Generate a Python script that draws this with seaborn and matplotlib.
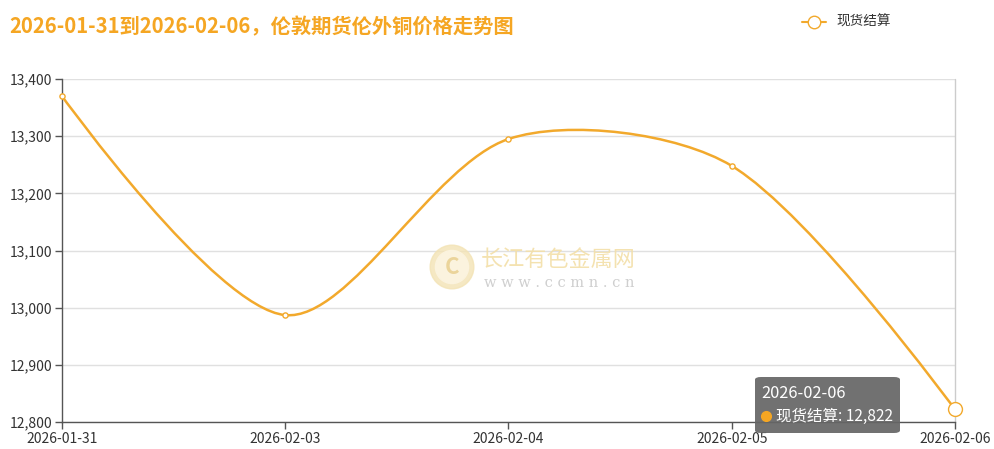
import numpy as np
import pandas as pd
import matplotlib
matplotlib.use("Agg")
import matplotlib.pyplot as plt
import seaborn as sns
from matplotlib.path import Path
from matplotlib.patches import PathPatch, FancyBboxPatch, Circle
from matplotlib.ticker import FuncFormatter, MultipleLocator

# 数据
dates = ["2026-01-31", "2026-02-03", "2026-02-04", "2026-02-05", "2026-02-06"]
prices = [13370, 12987, 13295, 13248, 12822]
series_name = "现货结算"

line_color = "#F2A92C"
title_color = "#F5A623"

sns.set_theme(style="white")
plt.rcParams['font.family'] = ['Noto Sans CJK SC', 'DejaVu Sans']

fig = plt.figure(figsize=(9.94, 4.49), dpi=100)
W, H = 994, 449
x0, x1, y0, y1 = 62, 955, 79, 422
ax = fig.add_axes([x0 / W, 1 - y1 / H, (x1 - x0) / W, (y1 - y0) / H])

df = pd.DataFrame({"idx": range(len(dates)), "date": dates, "price": prices})
ymin, ymax = 12800, 13400
ax.set_xlim(0, len(dates) - 1)
ax.set_ylim(ymin, ymax)

# 平滑曲线：按相邻点算贝塞尔控制点（像素空间计算）
px_x = (x1 - x0) / (len(dates) - 1)
px_y = (y1 - y0) / (ymax - ymin)
pts = np.array([[i * px_x, p * px_y] for i, p in enumerate(prices)])
lo, hi = pts.min(axis=0), pts.max(axis=0)
smooth = 0.3
n = len(pts)
verts = [tuple(pts[0])]
codes = [Path.MOVETO]
cp0 = pts[0].copy()
for i in range(1, n):
    p = pts[i]
    prev = pts[i - 1]
    if i == n - 1:
        cp1 = p.copy()
        nxt_cp = p.copy()
    else:
        nxt = pts[i + 1]
        v = nxt - prev
        lp = np.linalg.norm(p - prev)
        ln = np.linalg.norm(nxt - p)
        r = ln / (ln + lp)
        cp1 = p - v * smooth * (1 - r)
        nxt_cp = p + v * smooth * r
    cp0c = np.clip(cp0, lo, hi)
    cp1c = np.clip(cp1, lo, hi)
    verts += [tuple(cp0c), tuple(cp1c), tuple(p)]
    codes += [Path.CURVE4] * 3
    cp0 = nxt_cp
verts = [(vx / px_x, vy / px_y) for vx, vy in verts]
ax.add_patch(PathPatch(Path(verts, codes), fill=False, edgecolor=line_color, lw=1.8, zorder=3))

sns.scatterplot(data=df.iloc[:-1], x="idx", y="price", ax=ax, s=14, color="white",
                edgecolor=line_color, linewidth=1, zorder=4, legend=False, clip_on=False)
sns.scatterplot(data=df.iloc[-1:], x="idx", y="price", ax=ax, s=100, color="white",
                edgecolor=line_color, linewidth=1, zorder=4, legend=False, clip_on=False)

# 坐标轴
ax.yaxis.set_major_locator(MultipleLocator(100))
ax.yaxis.set_major_formatter(FuncFormatter(lambda v, _: f"{int(v):,}"))
ax.set_xticks(range(len(dates)))
ax.set_xticklabels(dates)
ax.grid(axis="y", color="#E0E0E0", lw=1)
ax.set_axisbelow(True)
for side in ["top", "right"]:
    ax.spines[side].set_visible(False)
for side in ["left", "bottom"]:
    ax.spines[side].set_color("#555555")
    ax.spines[side].set_linewidth(1)
ax.tick_params(axis="both", which="major", length=5, width=1, color="#555555",
               labelsize=10, labelcolor="#333333", pad=2, left=True, bottom=True)
ax.set_xlabel("")
ax.set_ylabel("")
ax.axvline(len(dates) - 1, color="#CCCCCC", lw=1, zorder=1, clip_on=False)

# 标题
fig.text(9 / W, 1 - 27 / H, f"{dates[0]}到{dates[-1]}，伦敦期货伦外铜价格走势图",
         color=title_color, fontsize=14.6, fontweight="bold", va="center", ha="left")

# 图例
fig.lines.append(plt.Line2D([802 / W, 826 / W], [1 - 22 / H] * 2, color=line_color,
                            lw=1.5, transform=fig.transFigure))
fig.lines.append(plt.Line2D([814 / W], [1 - 22 / H], marker="o", markersize=9,
                            markerfacecolor="white", markeredgecolor=line_color,
                            transform=fig.transFigure))
fig.text(836 / W, 1 - 22 / H, series_name, fontsize=9.8, color="#333333", va="center")

# 水印
wm = fig.add_axes([429 / W, 1 - 290 / H, 46 / W, 46 / H])
wm.set_xlim(-1, 1)
wm.set_ylim(-1, 1)
wm.axis("off")
wm.add_patch(Circle((0, 0), 0.95, color="#F3E3B5", alpha=0.8))
wm.add_patch(Circle((0, 0), 0.72, color="#FBF3DE"))
wm.text(0, -0.02, "C", fontsize=16, fontweight="bold", color="#EBD49A", ha="center", va="center")
fig.text(481 / W, 1 - 260 / H, "长江有色金属网", fontsize=15.9, color="#F3DFA8", va="center", alpha=0.9)
fig.text(484 / W, 1 - 283 / H, "w w w . c c m n . c n", fontsize=10.5, color="#CFCFCF",
         va="center", family="DejaVu Serif")

# 提示框
fig.patches.append(FancyBboxPatch((755 / W, 1 - 433 / H), 145 / W, 56 / H,
                                  boxstyle="round,pad=0,rounding_size=0.006",
                                  transform=fig.transFigure, facecolor="#666666",
                                  edgecolor="none", alpha=0.93, zorder=10))
fig.text(761 / W, 1 - 393 / H, dates[-1], fontsize=11.8, color="white", va="center", zorder=11)
fig.lines.append(plt.Line2D([766 / W], [1 - 416 / H], marker="o", markersize=7,
                            color="#F5A623", lw=0, transform=fig.transFigure, zorder=11))
fig.text(776 / W, 1 - 416 / H, f"{series_name}: {prices[-1]:,}", fontsize=11.2,
         color="white", va="center", zorder=11)

fig.savefig("out.png", dpi=100)
